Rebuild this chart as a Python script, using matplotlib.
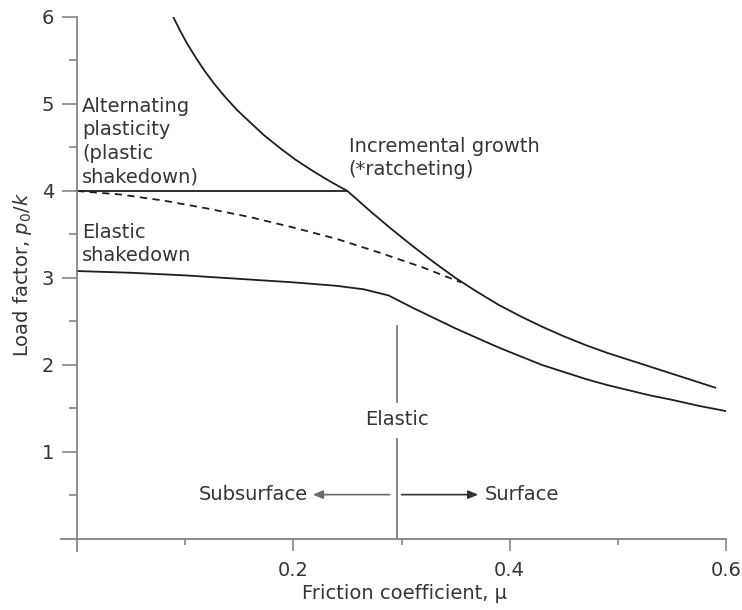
import matplotlib.pyplot as plt

plt.rcParams['font.family'] = ['DejaVu Sans']
plt.rcParams['mathtext.fontset'] = 'dejavusans'

# shakedown map: load factor p0/k against friction coefficient mu
mu_ratchet = [0.089, 0.095, 0.102, 0.110, 0.118, 0.127, 0.137, 0.148, 0.160, 0.173, 0.187,
              0.202, 0.218, 0.234, 0.250,
              0.270, 0.290, 0.310, 0.330, 0.350, 0.370, 0.390, 0.410, 0.430, 0.450,
              0.470, 0.490, 0.510, 0.530, 0.550, 0.570, 0.590]
p_ratchet = [6.00, 5.85, 5.69, 5.53, 5.38, 5.23, 5.08, 4.93, 4.79, 4.64, 4.50,
             4.36, 4.23, 4.11, 4.00,
             3.78, 3.57, 3.37, 3.18, 3.00, 2.84, 2.69, 2.56, 2.44, 2.33,
             2.23, 2.14, 2.06, 1.98, 1.90, 1.82, 1.74]

mu_plastic = [0.0, 0.250]
p_plastic = [4.0, 4.0]

mu_dashed = [0.0, 0.040, 0.080, 0.120, 0.160, 0.200, 0.240, 0.280, 0.320, 0.355]
p_dashed = [4.00, 3.96, 3.89, 3.80, 3.70, 3.58, 3.45, 3.29, 3.12, 2.95]

mu_elastic = [0.0, 0.050, 0.100, 0.150, 0.200, 0.240, 0.265, 0.288,
              0.310, 0.330, 0.350, 0.370, 0.390, 0.410, 0.430, 0.450, 0.470,
              0.490, 0.510, 0.530, 0.550, 0.575, 0.600]
p_elastic = [3.08, 3.06, 3.03, 2.99, 2.95, 2.91, 2.87, 2.80,
             2.66, 2.54, 2.42, 2.31, 2.20, 2.10, 2.00, 1.92, 1.84,
             1.77, 1.71, 1.65, 1.60, 1.53, 1.47]

mu_split = 0.2955
split_segments = [(0.0, 1.15), (1.58, 2.45)]
arrow_y = 0.51
arrow_left = (0.289, 0.218)
arrow_right = (0.300, 0.371)

x_major = [0.2, 0.4, 0.6]
x_minor = [0.1, 0.3, 0.5]
y_major = [1, 2, 3, 4, 5, 6]
y_minor = [0.5, 1.5, 2.5, 3.5, 4.5, 5.5]

AXIS_GREY = '#858585'
INK = '#1e1e1e'
TEXT = '#353535'
FS = 14
LW = 1.3

fig = plt.figure(figsize=(7.42, 6.10), dpi=100)
ax = fig.add_axes([61 / 742, 59 / 610, 665 / 742, 534 / 610])
ax.set_xlim(-0.0148, 0.6)
ax.set_ylim(-0.138, 6.0)

for s in ['top', 'right']:
    ax.spines[s].set_visible(False)
ax.spines['left'].set_position(('data', 0))
ax.spines['bottom'].set_position(('data', 0))
for s in ['left', 'bottom']:
    ax.spines[s].set_color(AXIS_GREY)
    ax.spines[s].set_linewidth(1.3)

ax.set_xticks(x_major)
ax.set_xticklabels(['0.2', '0.4', '0.6'])
ax.set_xticks(x_minor, minor=True)
ax.set_yticks(y_major)
ax.set_yticks(y_minor, minor=True)
ax.tick_params(axis='x', which='major', length=8.6, width=1.2, color=AXIS_GREY,
               labelsize=FS, labelcolor=TEXT, pad=7.5)
ax.tick_params(axis='x', which='minor', length=4.3, width=1.2, color=AXIS_GREY)
ax.tick_params(axis='y', which='major', length=10.8, width=1.2, color=AXIS_GREY,
               labelsize=FS, labelcolor=TEXT, pad=5.5)
ax.tick_params(axis='y', which='minor', length=5.8, width=1.2, color=AXIS_GREY)

# boundaries
ax.plot(mu_ratchet, p_ratchet, color=INK, lw=LW)
ax.plot(mu_plastic, p_plastic, color=INK, lw=LW)
ax.plot(mu_dashed, p_dashed, color=INK, lw=LW, linestyle=(0, (4.0, 3.0)))
ax.plot(mu_elastic, p_elastic, color=INK, lw=LW)

# subsurface / surface divide
for y0, y1 in split_segments:
    ax.plot([mu_split, mu_split], [y0, y1], color=AXIS_GREY, lw=1.4)

ax.annotate('', xy=(arrow_left[1], arrow_y), xytext=(arrow_left[0], arrow_y),
            arrowprops=dict(arrowstyle='-|>,head_length=0.6,head_width=0.25',
                            mutation_scale=10, color='#6a6a6a', lw=1.2,
                            shrinkA=0, shrinkB=0))
ax.annotate('', xy=(arrow_right[1], arrow_y), xytext=(arrow_right[0], arrow_y),
            arrowprops=dict(arrowstyle='-|>,head_length=0.6,head_width=0.25',
                            mutation_scale=10, color='#333333', lw=1.2,
                            shrinkA=0, shrinkB=0))

# region labels (anchored at the baseline of their last line)
txt = dict(fontsize=FS, color=TEXT, linespacing=1.3)
ax.text(0.0046, 4.10, 'Alternating\nplasticity\n(plastic\nshakedown)',
        ha='left', va='baseline', **txt)
ax.text(0.0046, 3.19, 'Elastic\nshakedown', ha='left', va='baseline', **txt)
ax.text(0.251, 4.18, 'Incremental growth\n(*ratcheting)', ha='left', va='baseline', **txt)
ax.text(mu_split, 1.37, 'Elastic', ha='center', va='center', fontsize=FS, color=TEXT)
ax.text(0.2135, arrow_y, 'Subsurface', ha='right', va='center', fontsize=FS, color=TEXT)
ax.text(0.377, arrow_y, 'Surface', ha='left', va='center', fontsize=FS, color=TEXT)

ax.set_xlabel('Friction coefficient, μ', fontsize=FS, color=TEXT)
ax.xaxis.set_label_coords(0.517, -0.062)
ax.set_ylabel('Load factor, $p_0/k$', fontsize=FS, color=TEXT)
ax.yaxis.set_label_coords(-0.040, 0.517)

fig.savefig('out.png', dpi=100)
